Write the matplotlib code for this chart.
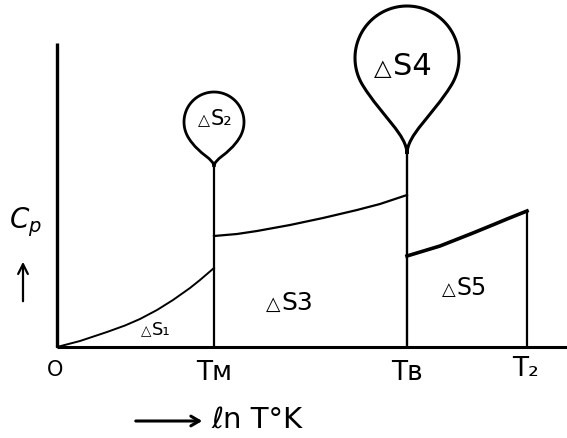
import matplotlib
matplotlib.use("Agg")
import matplotlib.pyplot as plt
import numpy as np
from matplotlib.path import Path
from matplotlib.patches import PathPatch


# transition temperatures on the ln T axis
T_M = 1.57
T_B = 3.50
T_2 = 4.70

# Cp of the solid, from 0 up to the melting point
solid_lnT = [0.0, 0.23, 0.50, 0.68, 0.83, 1.00, 1.16, 1.33, 1.43, 1.57]
solid_cp = [0.0, 0.06, 0.15, 0.215, 0.28, 0.37, 0.47, 0.59, 0.67, 0.79]

# Cp of the liquid, melting point to boiling point
liquid_lnT = [1.57, 1.80, 2.00, 2.33, 2.66, 3.00, 3.23, 3.50]
liquid_cp = [1.11, 1.13, 1.16, 1.22, 1.29, 1.37, 1.43, 1.52]

# Cp of the gas, boiling point to T2
gas_lnT = [3.50, 3.83, 4.16, 4.38, 4.50, 4.70]
gas_cp = [0.91, 1.01, 1.14, 1.23, 1.28, 1.36]

# the latent-heat "balloons" sitting on top of the transition lines
fusion_centre, fusion_radius, fusion_tip = 2.25, 0.30, 1.80
boil_centre, boil_radius, boil_tip = 2.89, 0.52, 1.93

y_axis_top = 3.04


def balloon(ax, x, cy, r, tip, lw=2.0):
    # circle joined to a pointed neck by two bezier curves
    a_left = np.radians(212)
    a_right = np.radians(328)
    pl = (x + r * np.cos(a_left), cy + r * np.sin(a_left))
    pr = (x + r * np.cos(a_right), cy + r * np.sin(a_right))
    # tangent directions on the circle (counter-clockwise)
    tl = (-np.sin(a_left), np.cos(a_left))
    tr = (-np.sin(a_right), np.cos(a_right))
    k = 0.2 * (cy - tip)
    m = 0.7 * r

    verts = [(x, tip),
             (x, tip + k), (pr[0] - tr[0] * m, pr[1] - tr[1] * m), pr]
    codes = [Path.MOVETO, Path.CURVE4, Path.CURVE4, Path.CURVE4]
    for a in np.linspace(a_right, a_left + 2 * np.pi, 80)[1:]:
        verts.append((x + r * np.cos(a), cy + r * np.sin(a)))
        codes.append(Path.LINETO)
    verts += [(pl[0] + tl[0] * m, pl[1] + tl[1] * m), (x, tip + k), (x, tip)]
    codes += [Path.CURVE4, Path.CURVE4, Path.CURVE4]
    ax.add_patch(PathPatch(Path(verts, codes), fill=False, lw=lw,
                           ec="black", joinstyle="round", capstyle="butt"))


def entropy_label(ax, x, y, tail, size):
    # small open triangle followed by "S" and its index
    ax.text(x, y, "△", fontsize=size * 0.75, ha="right", va="baseline")
    ax.text(x + 0.01, y, "S" + tail, fontsize=size, ha="left", va="baseline")


fig = plt.figure(figsize=(5.67, 4.39), dpi=100)
ax = fig.add_axes([0, 0, 1, 1])
ax.set_xlim(-0.57, 5.10)
ax.set_ylim(-0.91, 3.48)
ax.axis("off")

# axes of the diagram
ax.plot([0, 0], [0, y_axis_top], color="black", lw=2.4, solid_capstyle="butt")
ax.plot([0, 5.10], [0, 0], color="black", lw=2.2, solid_capstyle="butt")

# Cp curves
ax.plot(solid_lnT, solid_cp, color="black", lw=1.4)
ax.plot(liquid_lnT, liquid_cp, color="black", lw=1.6)
ax.plot(gas_lnT, gas_cp, color="black", lw=2.6)

# vertical lines at the transitions
ax.plot([T_M, T_M], [0, fusion_tip], color="black", lw=1.6)
ax.plot([T_B, T_B], [0, boil_tip], color="black", lw=1.7)
ax.plot([T_2, T_2], [0, gas_cp[-1]], color="black", lw=1.6)

balloon(ax, T_M, fusion_centre, fusion_radius, fusion_tip, lw=2.0)
balloon(ax, T_B, boil_centre, boil_radius, boil_tip, lw=2.2)

# entropy labels
entropy_label(ax, 0.94, 0.13, "₁", 13)
entropy_label(ax, 1.53, 2.23, "₂", 15)
entropy_label(ax, 2.23, 0.38, "3", 18)
entropy_label(ax, 3.35, 2.73, "4", 22)
entropy_label(ax, 3.99, 0.53, "5", 17)

# temperature marks under the axis
ax.text(-0.02, -0.22, "O", fontsize=15, ha="center", va="center")
ax.text(T_M, -0.25, "Tᴍ", fontsize=19, ha="center", va="center")
ax.text(T_B, -0.25, "Tʙ", fontsize=19, ha="center", va="center")
ax.text(T_2 - 0.02, -0.21, "T₂", fontsize=19, ha="center", va="center")

# axis titles with their arrows
ax.text(-0.32, 1.26, r"$C_p$", fontsize=20, ha="center", va="center")
ax.annotate("", xy=(-0.34, 0.88), xytext=(-0.34, 0.43),
            arrowprops=dict(arrowstyle="->,head_length=0.7,head_width=0.35",
                            lw=1.6, color="black"))
ax.annotate("", xy=(1.48, -0.74), xytext=(0.76, -0.74),
            arrowprops=dict(arrowstyle="->,head_length=0.6,head_width=0.35",
                            lw=2.2, color="black"))
ax.text(1.54, -0.72, "ℓn T°K", fontsize=21, ha="left", va="center")

fig.savefig("out.png", dpi=100, facecolor="white")
